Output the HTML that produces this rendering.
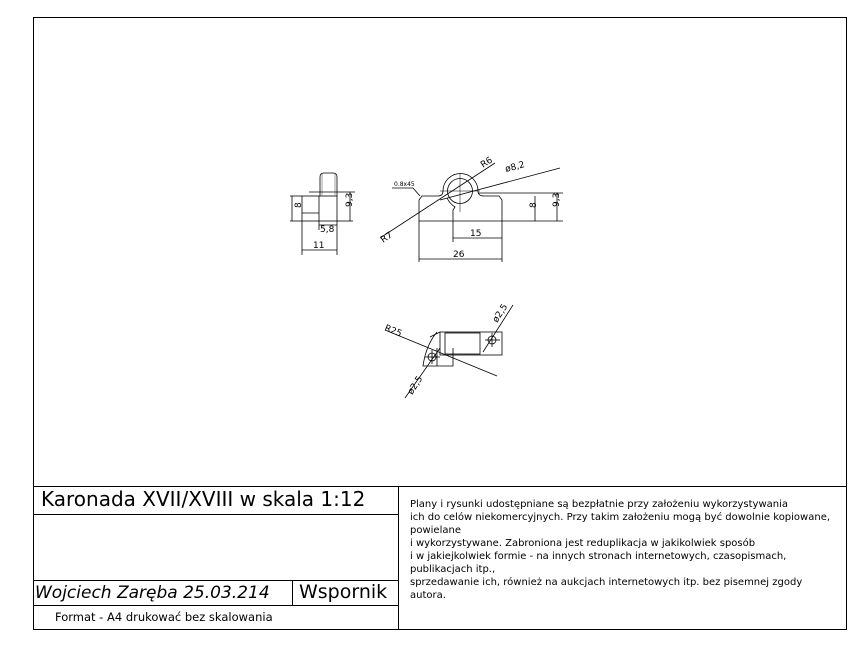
<!DOCTYPE html>
<html><head><style>
body{margin:0;background:#fff;width:866px;height:645px;overflow:hidden;font-family:"DejaVu Sans","Liberation Sans",sans-serif}
svg{position:absolute;left:0;top:0}
.t{position:absolute;white-space:nowrap;color:#000}
</style></head><body>
<svg width="866" height="645" viewBox="0 0 866 645" fill="none" stroke="#000" stroke-width="1">
<rect x="33.5" y="17.5" width="813" height="612"/>
<line x1="33" y1="486.5" x2="846" y2="486.5"/>
<line x1="33" y1="514.5" x2="398" y2="514.5"/>
<line x1="33" y1="580.5" x2="398" y2="580.5"/>
<line x1="33" y1="605.5" x2="398" y2="605.5"/>
<line x1="398.5" y1="486" x2="398.5" y2="629"/>
<line x1="292.5" y1="580" x2="292.5" y2="605"/>
<g stroke-width="0.8">
<!-- side view -->
<rect x="302" y="196" width="35" height="25"/>
<path d="M320 196 V177 Q320 173 324 173 H333 Q337 173 337 177 V196"/>
<line x1="322" y1="174" x2="322" y2="196" stroke="#888"/>
<line x1="335" y1="174" x2="335" y2="196" stroke="#888"/>
<line x1="302" y1="213" x2="319" y2="213"/>
<line x1="319" y1="196" x2="319" y2="221"/>
<line x1="309" y1="192" x2="355" y2="192"/>
<line x1="290" y1="196" x2="302" y2="196"/><line x1="290" y1="221" x2="302" y2="221"/>
<line x1="292" y1="196" x2="292" y2="221"/>
<line x1="337" y1="221" x2="353" y2="221"/>
<line x1="350" y1="192" x2="350" y2="221"/>
<line x1="319" y1="221" x2="319" y2="230"/><line x1="337" y1="221" x2="337" y2="255"/><line x1="302" y1="221" x2="302" y2="255"/>
<line x1="319" y1="225" x2="337" y2="225"/>
<line x1="302" y1="250" x2="337" y2="250"/>
<!-- front view -->
<path d="M419 221 V200 L422 196 H438 Q443 196 443 191 A17.5 17.5 0 0 1 478 191 Q478 196 484 196 H499 L502 200 V221 Z"/>
<circle cx="460" cy="191" r="12.5"/>
<path d="M447 198 Q450 204 455 207 L453 210 V221"/>
<line x1="460" y1="173" x2="460" y2="212" stroke-width="0.5"/>
<line x1="440" y1="191" x2="480" y2="191" stroke-width="0.5"/>
<line x1="453" y1="221" x2="453" y2="242"/>
<line x1="453" y1="238" x2="502" y2="238"/>
<line x1="502" y1="221" x2="502" y2="262"/><line x1="419" y1="221" x2="419" y2="262"/>
<line x1="419" y1="259" x2="502" y2="259"/>
<line x1="478" y1="193" x2="563" y2="193"/><line x1="502" y1="221" x2="563" y2="221"/>
<line x1="535" y1="196" x2="535" y2="221"/><line x1="557" y1="193" x2="557" y2="221"/>
<line x1="380" y1="238" x2="495" y2="163"/>
<line x1="440" y1="200" x2="560" y2="168"/>
<line x1="392" y1="188" x2="413" y2="188"/><line x1="413" y1="188" x2="420" y2="196"/>
<!-- bottom view -->
<rect x="440" y="332" width="62" height="23"/>
<rect x="445" y="333" width="35" height="21"/>
<path d="M437 332 Q426 345 423 366 H453 V348"/>
<line x1="430" y1="337" x2="440" y2="332"/>
<line x1="437" y1="348" x2="437" y2="366"/>
<circle cx="432" cy="357" r="4"/><circle cx="492" cy="340" r="4"/>
<line x1="425" y1="357" x2="440" y2="357"/><line x1="432" y1="350" x2="432" y2="364"/>
<line x1="485" y1="340" x2="500" y2="340"/><line x1="492" y1="333" x2="492" y2="347"/>
<line x1="385" y1="330" x2="497" y2="376"/>
<line x1="405" y1="398" x2="440" y2="348"/>
<line x1="483" y1="352" x2="513" y2="305"/>
</g>
<g fill="#000" stroke="none" font-family="DejaVu Sans" font-size="9">
<text x="296" y="213" transform="rotate(-90 296 208)">8</text>
<text x="347" y="212" transform="rotate(-90 347 207)">9,3</text>
<text x="320" y="232">5,8</text>
<text x="313" y="248">11</text>
<text x="470" y="236">15</text>
<text x="453" y="257">26</text>
<text x="532" y="212" transform="rotate(-90 532 208)">8</text>
<text x="554" y="212" transform="rotate(-90 554 207)">9,3</text>
<text x="483" y="168" transform="rotate(-33 483 168)">R6</text>
<text x="506" y="172" transform="rotate(-15 506 172)">ø8,2</text>
<text x="383" y="243" transform="rotate(-33 383 243)">R7</text>
<text x="394" y="186" font-size="6">0.8x45</text>
<text x="384" y="330" transform="rotate(22 384 330)">R25</text>
<text x="497" y="323" transform="rotate(-57 497 323)">ø2,5</text>
<text x="412" y="395" transform="rotate(-57 412 395)">ø2,5</text>
</g>
</svg>
<div class="t" style="left:41px;top:487px;font-size:20px">Karonada XVII/XVIII w skala 1:12</div>
<div class="t" style="left:35px;top:583px;font-size:17px;font-style:italic">Wojciech Zaręba 25.03.214</div>
<div class="t" style="left:299px;top:581px;font-size:19px">Wspornik</div>
<div class="t" style="left:55px;top:610px;font-size:11.5px">Format - A4 drukować bez skalowania</div>
<div class="t" style="left:410px;top:498px;font-size:10px;line-height:13px">Plany i rysunki udostępniane są bezpłatnie przy założeniu wykorzystywania<br>ich do celów niekomercyjnych. Przy takim założeniu mogą być dowolnie kopiowane,<br>powielane<br>i wykorzystywane. Zabroniona jest reduplikacja w jakikolwiek sposób<br>i w jakiejkolwiek formie - na innych stronach internetowych, czasopismach,<br>publikacjach itp.,<br>sprzedawanie ich, również na aukcjach internetowych itp. bez pisemnej zgody<br>autora.</div>
</body></html>
